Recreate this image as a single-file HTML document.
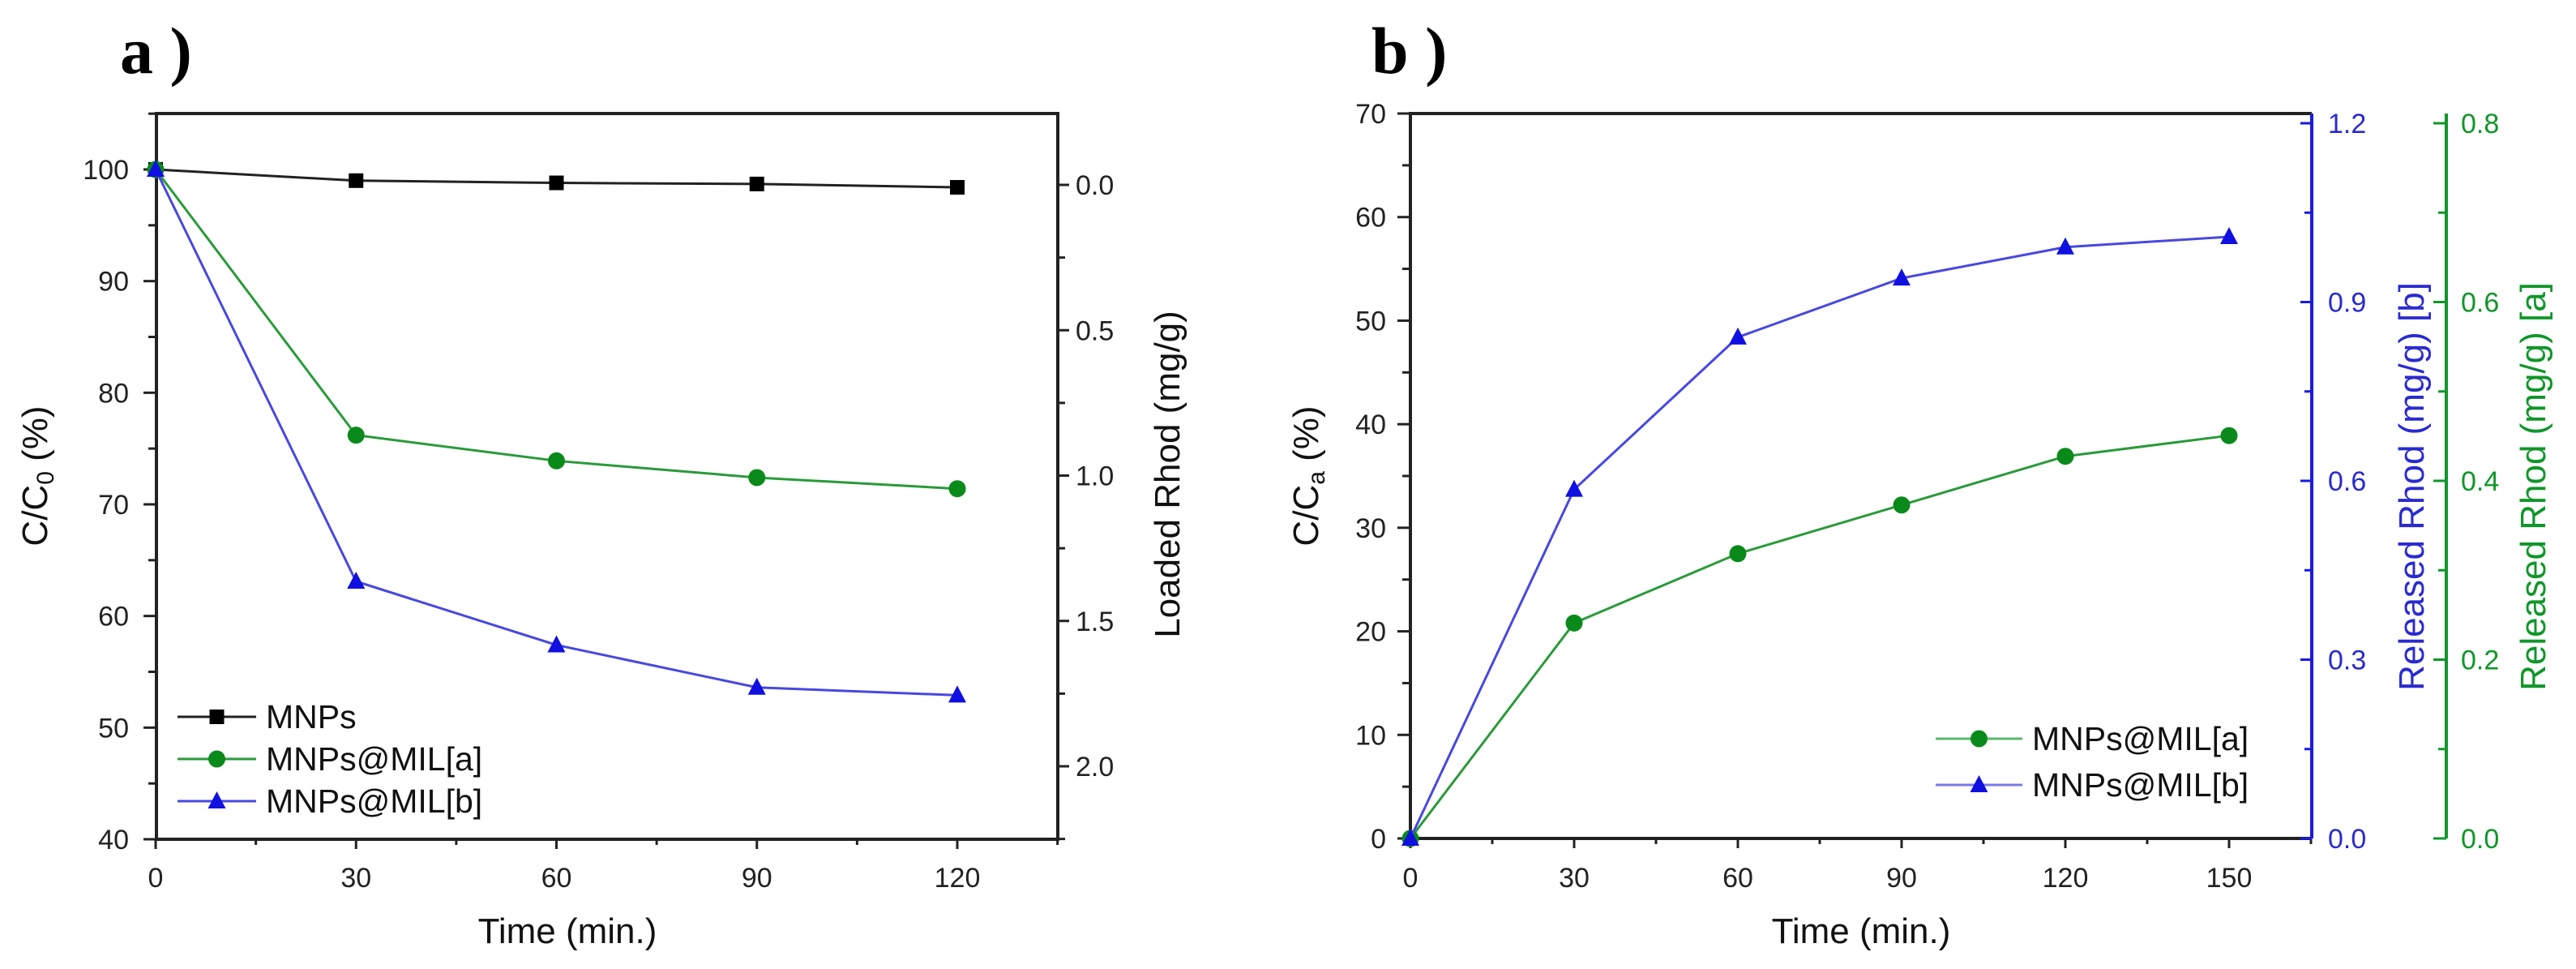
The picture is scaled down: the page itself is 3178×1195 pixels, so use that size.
<!DOCTYPE html>
<html><head><meta charset="utf-8"><style>
html,body{margin:0;padding:0;background:#fff;}
svg{display:block;font-family:"Liberation Sans",Arial,sans-serif;}
</style></head><body>
<svg id="fig" width="3178" height="1195" viewBox="0 0 3178 1195" xmlns="http://www.w3.org/2000/svg">
<text x="148" y="90" font-family="Liberation Serif,serif" font-weight="bold" font-size="82">a )</text>
<text x="1692" y="90" font-family="Liberation Serif,serif" font-weight="bold" font-size="82">b )</text>
<g id="pa"></g>
<g id="pb"></g>
</svg>
<script>
// Panel a data
const timeA = [0, 30, 60, 90, 120];
const mnps = [100, 99.0, 98.8, 98.7, 98.4];
const milA = [100, 76.2, 73.9, 72.4, 71.4];
const milB = [100, 63.1, 57.4, 53.6, 52.9];
const xTicksA = [0, 30, 60, 90, 120];
const yTicksA = [40, 50, 60, 70, 80, 90, 100];
const y2TicksA = ["0.0", "0.5", "1.0", "1.5", "2.0"];
// Panel b data
const timeB = [0, 30, 60, 90, 120, 150];
const relA = [0, 20.8, 27.5, 32.2, 36.9, 38.9];
const relB = [0, 33.7, 48.4, 54.1, 57.1, 58.1];
const xTicksB = [0, 30, 60, 90, 120, 150];
const yTicksB = [0, 10, 20, 30, 40, 50, 60, 70];
const blueTicksB = ["0.0", "0.3", "0.6", "0.9", "1.2"];
const greenTicksB = ["0.0", "0.2", "0.4", "0.6", "0.8"];

const NS = "http://www.w3.org/2000/svg";
function mk(parent, tag, attrs, txt) {
  const e = document.createElementNS(NS, tag);
  for (const k in attrs) e.setAttribute(k, attrs[k]);
  if (txt !== undefined) e.textContent = txt;
  parent.appendChild(e);
  return e;
}
function marker(g, type, x, y, color) {
  let m;
  if (type === 'sq') m = mk(g, 'rect', {x: x - 9, y: y - 9, width: 18, height: 18, fill: color});
  else if (type === 'ci') m = mk(g, 'circle', {cx: x, cy: y, r: 10.5, fill: color});
  else m = mk(g, 'path', {d: `M${x},${y - 12} L${x + 11},${y + 9} L${x - 11},${y + 9} Z`, fill: color});
  return m;
}
function series(g, xs, ys, X, Y, color, lineColor, type, name) {
  const sg = mk(g, 'g', {});
  
  
  const pts = xs.map((t, i) => X(t) + ',' + Y(ys[i])).join(' ');
  mk(sg, 'polyline', {points: pts, fill: 'none', stroke: lineColor, 'stroke-width': 3});
  xs.forEach((t, i) => {
    const m = marker(sg, type, X(t), Y(ys[i]), color);
    
    
  });
}
function legend(g, x1, x2, y, type, color, lineColor, label, name) {
  const lg = mk(g, 'g', {});
  
  
  mk(lg, 'line', {x1: x1, x2: x2, y1: y, y2: y, stroke: lineColor, 'stroke-width': 3});
  marker(lg, type, (x1 + x2) / 2, y, color);
  mk(lg, 'text', {x: x2 + 12, y: y + 14, 'font-size': 41, fill: '#111'}, label);
}

// ---------- Panel a ----------
(function () {
  const g = document.getElementById('pa');
  const L = 193, R = 1305, T = 140, B = 1035;
  const X = t => 192 + (t - 0) * (1181 - 192) / 120;
  const Y = v => 1035 - (v - 40) * (1035 - 209) / 60;
  const Y2 = v => 228 + v * (945 - 228) / 2;
  mk(g, 'rect', {x: L, y: T, width: R - L, height: B - T, fill: 'none', stroke: '#222', 'stroke-width': 4});
  const ax = mk(g, 'g', {fill: '#222', 'font-size': 34});
  // y ticks left
  for (let v = 40; v <= 105; v += 5) {
    const maj = v % 10 === 0;
    mk(ax, 'line', {x1: L - (maj ? 16 : 10), x2: L, y1: Y(v), y2: Y(v), stroke: '#222', 'stroke-width': 3});
  }
  yTicksA.forEach(v => mk(ax, 'text', {x: L - 34, y: Y(v) + 12, 'text-anchor': 'end'}, String(v)));
  // x ticks
  for (let t = 0; t <= 135; t += 15) {
    const maj = t % 30 === 0;
    mk(ax, 'line', {x1: X(t), x2: X(t), y1: B, y2: B + (maj ? 12 : 7), stroke: '#222', 'stroke-width': 3});
  }
  xTicksA.forEach(t => mk(ax, 'text', {x: X(t), y: 1094, 'text-anchor': 'middle'}, String(t)));
  // right axis
  for (let v = 0; v <= 2.25; v += 0.25) {
    const maj = Math.abs(v * 2 - Math.round(v * 2)) < 1e-6;
    mk(ax, 'line', {x1: R, x2: R + (maj ? 14 : 9), y1: Y2(v), y2: Y2(v), stroke: '#222', 'stroke-width': 3});
  }
  y2TicksA.forEach(s => mk(ax, 'text', {x: R + 22, y: Y2(parseFloat(s)) + 12}, s));
  mk(g, 'text', {x: 700, y: 1163, 'font-size': 44, 'text-anchor': 'middle', fill: '#111',  }, 'Time (min.)');
  const yt = mk(g, 'text', {transform: 'translate(58,587) rotate(-90)', 'font-size': 44, 'text-anchor': 'middle', fill: '#111',  }, 'C/C');
  mk(yt, 'tspan', {'font-size': 30, dy: 8}, '0');
  mk(yt, 'tspan', {dy: -8}, ' (%)');
  mk(g, 'text', {transform: 'translate(1455,585) rotate(-90)', 'font-size': 44, 'text-anchor': 'middle', fill: '#111',  }, 'Loaded Rhod (mg/g)');
  series(g, timeA, mnps, X, Y, '#000', '#222', 'sq', 'series-mnps');
  series(g, timeA, milA, X, Y, '#0a8a1a', '#2a9a3a', 'ci', 'series-mil-a');
  series(g, timeA, milB, X, Y, '#1010e0', '#4848e0', 'tri', 'series-mil-b');
  legend(g, 219, 316, 884, 'sq', '#000', '#222', 'MNPs', 'legend-mnps');
  legend(g, 219, 316, 936, 'ci', '#0a8a1a', '#2a9a3a', 'MNPs@MIL[a]', 'legend-mil-a');
  legend(g, 219, 316, 988, 'tri', '#1010e0', '#4848e0', 'MNPs@MIL[b]', 'legend-mil-b');
})();

// ---------- Panel b ----------
(function () {
  const g = document.getElementById('pb');
  const L = 1740, R = 2852, T = 140, B = 1034;
  const X = t => 1740 + t * (2750 - 1740) / 150;
  const Y = v => 1034 - v * (1034 - 140) / 70;
  const Yb = v => 1034 - v * (1034 - 152) / 1.2;
  const Yg = v => 1034 - v * (1034 - 152) / 0.8;
  const GX = 3018;
  // box: left/top/bottom black, right blue
  mk(g, 'path', {d: `M${R},${T} L${L},${T} L${L},${B} L${R},${B}`, fill: 'none', stroke: '#222', 'stroke-width': 4});
  mk(g, 'line', {x1: R, x2: R, y1: T, y2: B, stroke: '#1a1ae0', 'stroke-width': 4});
  mk(g, 'line', {x1: GX, x2: GX, y1: T, y2: B, stroke: '#10962a', 'stroke-width': 4});
  const ax = mk(g, 'g', {fill: '#222', 'font-size': 34});
  for (let v = 0; v <= 70; v += 5) {
    const maj = v % 10 === 0;
    mk(ax, 'line', {x1: L - (maj ? 16 : 10), x2: L, y1: Y(v), y2: Y(v), stroke: '#222', 'stroke-width': 3});
  }
  yTicksB.forEach(v => mk(ax, 'text', {x: L - 30, y: Y(v) + 12, 'text-anchor': 'end'}, String(v)));
  for (let t = 0; t <= 165; t += 15) {
    const maj = t % 30 === 0;
    mk(ax, 'line', {x1: X(t), x2: X(t), y1: B, y2: B + (maj ? 12 : 7), stroke: '#222', 'stroke-width': 3});
  }
  xTicksB.forEach(t => mk(ax, 'text', {x: X(t), y: 1094, 'text-anchor': 'middle'}, String(t)));
  for (let v = 0; v <= 1.2001; v += 0.15) {
    const maj = Math.abs(v / 0.3 - Math.round(v / 0.3)) < 1e-6;
    mk(ax, 'line', {x1: R - (maj ? 14 : 9), x2: R, y1: Yb(v), y2: Yb(v), stroke: '#1a1ae0', 'stroke-width': 3});
  }
  blueTicksB.forEach(s => mk(ax, 'text', {x: R + 20, y: Yb(parseFloat(s)) + 12, fill: '#2a2ad0'}, s));
  for (let v = 0; v <= 0.8001; v += 0.1) {
    const maj = Math.abs(v / 0.2 - Math.round(v / 0.2)) < 1e-6;
    mk(ax, 'line', {x1: GX - (maj ? 16 : 10), x2: GX, y1: Yg(v), y2: Yg(v), stroke: '#10962a', 'stroke-width': 3});
  }
  greenTicksB.forEach(s => mk(ax, 'text', {x: GX + 18, y: Yg(parseFloat(s)) + 12, fill: '#10962a'}, s));
  mk(g, 'text', {x: 2296, y: 1163, 'font-size': 44, 'text-anchor': 'middle', fill: '#111',  }, 'Time (min.)');
  const yt = mk(g, 'text', {transform: 'translate(1626,587) rotate(-90)', 'font-size': 44, 'text-anchor': 'middle', fill: '#111',  }, 'C/C');
  mk(yt, 'tspan', {'font-size': 30, dy: 8}, 'a');
  mk(yt, 'tspan', {dy: -8}, ' (%)');
  mk(g, 'text', {transform: 'translate(2990,600) rotate(-90)', 'font-size': 44, 'text-anchor': 'middle', fill: '#2a2ad0',  }, 'Released Rhod (mg/g) [b]');
  mk(g, 'text', {transform: 'translate(3140,600) rotate(-90)', 'font-size': 44, 'text-anchor': 'middle', fill: '#10962a',  }, 'Released Rhod (mg/g) [a]');
  series(g, timeB, relA, X, Y, '#0a8a1a', '#2a9a3a', 'ci', 'series-release-a');
  series(g, timeB, relB, X, Y, '#1010e0', '#4848e0', 'tri', 'series-release-b');
  legend(g, 2388, 2495, 911, 'ci', '#0a8a1a', '#5ab86a', 'MNPs@MIL[a]', 'legend-release-a');
  legend(g, 2388, 2495, 968, 'tri', '#1010e0', '#7878e8', 'MNPs@MIL[b]', 'legend-release-b');
})();
</script>
</body></html>
